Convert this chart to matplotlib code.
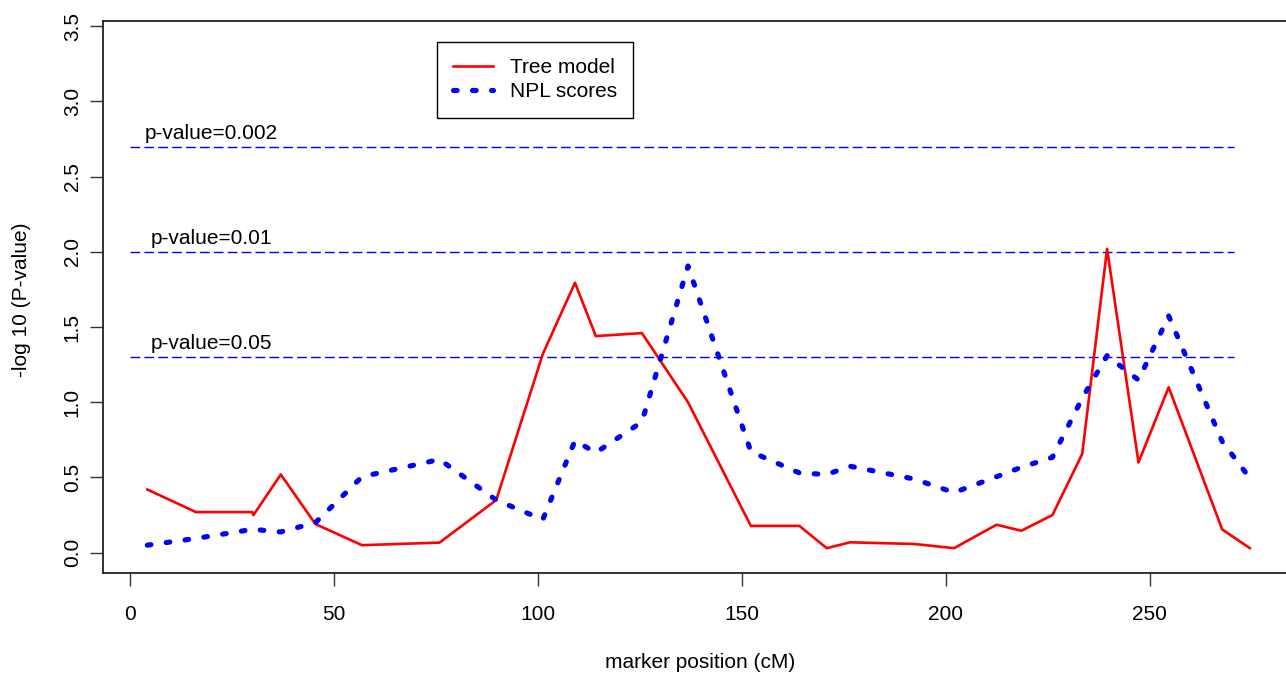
import numpy as np
import matplotlib
matplotlib.use("Agg")
import matplotlib.pyplot as plt

plt.rcParams['font.family'] = ['Liberation Sans', 'DejaVu Sans']

#%% data
pos = [4.3, 16.2, 30.0, 30.3, 37.0, 45.5, 56.9, 75.9, 89.8, 101.2, 109.1,
       114.2, 125.5, 136.8, 152.2, 164.1, 170.8, 176.5, 192.2, 202.0, 212.4,
       218.5, 226.1, 233.4, 239.5, 247.2, 254.6, 267.7, 274.5]
tree = [0.42, 0.27, 0.27, 0.25, 0.52, 0.19, 0.05, 0.067, 0.35, 1.32, 1.795,
        1.44, 1.46, 1.00, 0.178, 0.178, 0.03, 0.069, 0.058, 0.03, 0.186,
        0.146, 0.25, 0.656, 2.02, 0.60, 1.10, 0.155, 0.03]
npl = [0.05, 0.095, 0.155, 0.155, 0.138, 0.20, 0.505, 0.62, 0.35, 0.22, 0.745,
       0.665, 0.87, 1.906, 0.672, 0.53, 0.52, 0.575, 0.49, 0.40, 0.505,
       0.568, 0.634, 1.027, 1.31, 1.148, 1.574, 0.74, 0.495]

pvals = [0.002, 0.01, 0.05]
plabels = ['p-value=0.002', 'p-value=0.01', 'p-value=0.05']

# ==============================================================
# plot
# ==============================================================
W, H = 1286, 673
fig = plt.figure(figsize=(W/100, H/100), dpi=100)
# axes box: left 103 px, top 21 px, bottom 573 px, right edge past the picture
ax = fig.add_axes([103.3/W, (H-572.7)/H, (1296-103.3)/W, (572.7-21)/H])

ax.plot(pos, tree, color='red', linewidth=1.9, label='Tree model', zorder=3)
ax.plot(pos, npl, color='blue', linewidth=3.7, dashes=(0.7, 3.0),
        dash_capstyle='round', label='NPL scores', zorder=3)

for p, lab in zip(pvals, plabels):
    yy = -np.log10(p)
    ax.plot([0, 270.5], [yy, yy], color='blue', linewidth=1.0, dashes=(7, 3))
    ax.text(20, yy + 0.09, lab, ha='center', va='center', fontsize=15)

ax.set_xlim(-6.5, 285.8)
ax.set_ylim(-0.133, 3.535)
ax.set_xticks([0, 50, 100, 150, 200, 250])
ax.set_yticks([0.0, 0.5, 1.0, 1.5, 2.0, 2.5, 3.0, 3.5])
ax.set_yticklabels(['0.0', '0.5', '1.0', '1.5', '2.0', '2.5', '3.0', '3.5'],
                   rotation=90, va='center')
ax.tick_params(axis='both', labelsize=15, length=9.5, width=1.0, color='#333333')
ax.tick_params(axis='x', pad=14)
ax.tick_params(axis='y', pad=6)
for s in ax.spines.values():
    s.set_linewidth(1.3)
    s.set_color('#222222')

fig.text(700/W, 1-662/H, 'marker position (cM)', ha='center', va='center', fontsize=15)
fig.text(22/W, 1-300/H, '-log 10 (P-value)', ha='center', va='center',
         rotation=90, fontsize=15)

leg = ax.legend(loc='upper left', bbox_to_anchor=(437/W, 1-42/H),
                bbox_transform=fig.transFigure, borderaxespad=0, fancybox=False,
                edgecolor='black', framealpha=1, fontsize=15, handlelength=1.9,
                handletextpad=0.8, borderpad=0.78, labelspacing=0.25)
leg.get_frame().set_linewidth(1.0)

fig.savefig('out.png', dpi=100)
